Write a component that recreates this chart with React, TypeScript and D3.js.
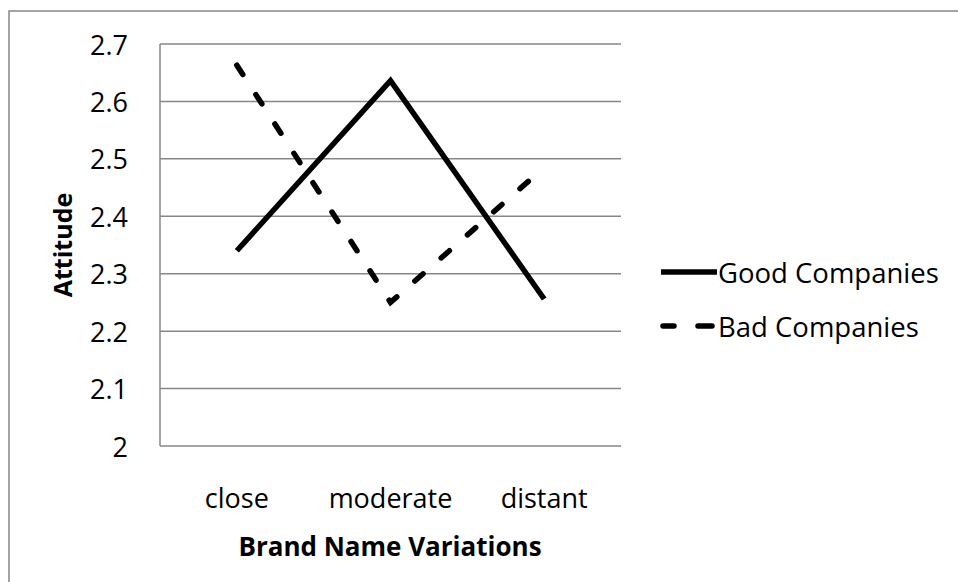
import React from "react";
import * as d3 from "d3";

const categories = ["close", "moderate", "distant"];
const goodCompanies = [2.34, 2.636, 2.256];
const badCompanies = [2.663, 2.25, 2.485];
const yTicks = [2, 2.1, 2.2, 2.3, 2.4, 2.5, 2.6, 2.7];
const seriesNames = ["Good Companies", "Bad Companies"];

const W = 958;
const H = 582;
const plot = { left: 160, right: 621, top: 44, bottom: 446 };
const font = "'Open Sans', 'Noto Sans', sans-serif";
const gridColor = "#878787";
const dash = "11 24";

const App = () => {
  const x = d3
    .scalePoint<string>()
    .domain(categories)
    .range([plot.left, plot.right])
    .padding(0.5);
  const y = d3.scaleLinear().domain([2, 2.7]).range([plot.bottom, plot.top]);

  const line = d3
    .line<number>()
    .x((_, i) => x(categories[i]) as number)
    .y((d) => y(d));

  const series = [
    { name: seriesNames[0], values: goodCompanies, dash: undefined },
    { name: seriesNames[1], values: badCompanies, dash: dash },
  ];

  return (
    <svg
      width={W}
      height={H}
      style={{ position: "absolute", left: 0, top: 0, background: "#fff", overflow: "hidden" }}
      fontFamily={font}
    >
      {/* chart border (only top and left edges are in frame) */}
      <path d={`M9,${H} V11 H${W}`} fill="none" stroke={gridColor} strokeWidth={1.5} />

      {/* gridlines */}
      {yTicks.map((t) => (
        <line
          key={t}
          x1={plot.left}
          x2={plot.right}
          y1={y(t)}
          y2={y(t)}
          stroke={gridColor}
          strokeWidth={1.5}
        />
      ))}
      <line x1={plot.left} x2={plot.left} y1={plot.top} y2={plot.bottom} stroke={gridColor} strokeWidth={1.5} />

      {/* y tick labels */}
      {yTicks.map((t) => (
        <text
          key={"l" + t}
          x={128}
          y={y(t)}
          textAnchor="end"
          dominantBaseline="central"
          fontSize={27}
          fill="#000"
        >
          {String(t)}
        </text>
      ))}

      {/* x tick labels */}
      {categories.map((c) => (
        <text key={c} x={x(c)} y={497} textAnchor="middle" dominantBaseline="central" fontSize={27} fill="#000">
          {c}
        </text>
      ))}

      {/* axis titles */}
      <text x={390} y={546} textAnchor="middle" dominantBaseline="central" fontSize={26} fontWeight="bold">
        Brand Name Variations
      </text>
      <text
        transform="translate(62,245) rotate(-90)"
        textAnchor="middle"
        dominantBaseline="central"
        fontSize={25}
        fontWeight="bold"
      >
        Attitude
      </text>

      {/* series lines */}
      {series.map((s) => (
        <path
          key={s.name}
          d={line(s.values) || ""}
          fill="none"
          stroke="#000"
          strokeWidth={5.5}
          strokeDasharray={s.dash}
          strokeLinecap={s.dash ? "round" : "butt"}
          strokeLinejoin="miter"
        />
      ))}

      {/* legend */}
      {series.map((s, i) => {
        const ly = 272 + i * 54;
        return (
          <g key={"lg" + s.name}>
            <line
              x1={s.dash ? 663 : 661}
              x2={717}
              y1={ly}
              y2={ly}
              stroke="#000"
              strokeWidth={5.5}
              strokeDasharray={s.dash ? "11 24 14" : undefined}
              strokeLinecap={s.dash ? "round" : "butt"}
            />
            <text x={718} y={ly} dominantBaseline="central" fontSize={27.5}>
              {s.name}
            </text>
          </g>
        );
      })}
    </svg>
  );
};

export default App;
